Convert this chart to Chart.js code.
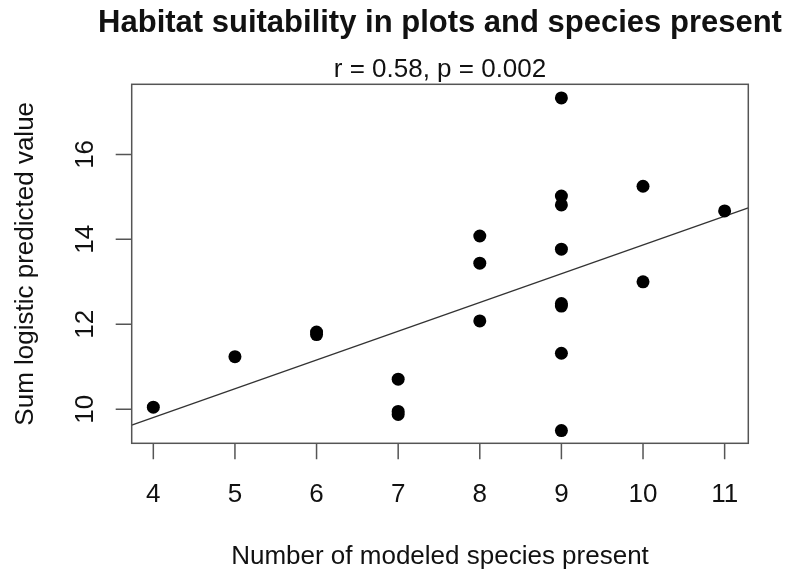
<!DOCTYPE html>
<html>
<head>
<meta charset="utf-8">
<script src="https://cdn.jsdelivr.net/npm/chart.js@4"></script>
<style>
  html, body { margin: 0; padding: 0; background: #fff; }
  canvas { display: block; }
</style>
</head>
<body>
<canvas id="scatterChart" width="791" height="575"></canvas>
<script>
// ------------------------
// DATA
// ------------------------
const speciesPresent = [4, 5, 6, 6, 7, 7, 7, 8, 8, 8, 9, 9, 9, 9, 9, 9, 9, 9, 10, 10, 11];
const suitabilitySum = [10.05, 11.24, 11.76, 11.82, 10.71, 9.88, 9.95, 14.08, 13.44, 12.08,
                        17.33, 15.02, 14.81, 13.77, 12.49, 12.43, 11.32, 9.50, 15.25, 13.00, 14.67];

const fitX = [3.735, 11.29];
const fitY = [9.63, 14.74];

const xTicks = [4, 5, 6, 7, 8, 9, 10, 11];
const yTicks = [10, 12, 14, 16];

const chartTitle = "Habitat suitability in plots and species present";
const chartSubtitle = "r = 0.58, p = 0.002";
const xTitle = "Number of modeled species present";
const yTitle = "Sum logistic predicted value";

const FONT = '"Liberation Sans", Arial, Helvetica, sans-serif';

// ------------------------
// R-STYLE AXES PLUGIN
// ------------------------
const baseAxes = {
  id: "baseAxes",
  afterDraw(chart) {
    const ctx = chart.ctx;
    const area = chart.chartArea;
    const xs = chart.scales.x;
    const ys = chart.scales.y;
    const midX = (area.left + area.right) / 2;
    const midY = (area.top + area.bottom) / 2;

    ctx.save();

    // box
    ctx.strokeStyle = "#555";
    ctx.lineWidth = 1.5;
    ctx.strokeRect(area.left, area.top, area.right - area.left, area.bottom - area.top);

    // tick marks
    ctx.beginPath();
    xTicks.forEach(v => {
      const px = xs.getPixelForValue(v);
      ctx.moveTo(px, area.bottom);
      ctx.lineTo(px, area.bottom + 16);
    });
    yTicks.forEach(v => {
      const py = ys.getPixelForValue(v);
      ctx.moveTo(area.left, py);
      ctx.lineTo(area.left - 16, py);
    });
    ctx.stroke();

    ctx.fillStyle = "#111";

    // x tick labels
    ctx.font = "26px " + FONT;
    ctx.textAlign = "center";
    ctx.textBaseline = "alphabetic";
    xTicks.forEach(v => {
      ctx.fillText(String(v), xs.getPixelForValue(v), 502);
    });

    // y tick labels (rotated like R)
    yTicks.forEach(v => {
      ctx.save();
      ctx.translate(93, ys.getPixelForValue(v));
      ctx.rotate(-Math.PI / 2);
      ctx.fillText(String(v), 0, 0);
      ctx.restore();
    });

    // axis titles
    ctx.fillText(xTitle, midX, 564);
    ctx.save();
    ctx.translate(33, midY);
    ctx.rotate(-Math.PI / 2);
    ctx.fillText(yTitle, 0, 0);
    ctx.restore();

    // titles
    ctx.fillText(chartSubtitle, midX, 77);
    ctx.font = "bold 31px " + FONT;
    ctx.fillText(chartTitle, midX, 32);

    ctx.restore();
  }
};

// ------------------------
// CHART
// ------------------------
const ctx1 = document.getElementById("scatterChart").getContext("2d");

const scatterChart = new Chart(ctx1, {
  type: "scatter",
  data: {
    datasets: [
      {
        label: "Plots",
        data: speciesPresent.map((x, i) => ({ x, y: suitabilitySum[i] })),
        pointRadius: 6.5,
        pointHoverRadius: 6.5,
        pointBackgroundColor: "#000",
        pointBorderWidth: 0
      },
      {
        label: "Fit",
        type: "line",
        data: fitX.map((x, i) => ({ x, y: fitY[i] })),
        borderColor: "#333",
        borderWidth: 1.3,
        pointRadius: 0,
        fill: false
      }
    ]
  },
  options: {
    responsive: false,
    animation: false,
    layout: {
      padding: { left: 131.7, top: 84.3, right: 42.7, bottom: 131.7 }
    },
    plugins: {
      legend: { display: false },
      tooltip: { enabled: false }
    },
    scales: {
      x: { type: "linear", min: 3.735, max: 11.29, display: false },
      y: { type: "linear", min: 9.2, max: 17.65, display: false }
    }
  },
  plugins: [baseAxes]
});
</script>
</body>
</html>
